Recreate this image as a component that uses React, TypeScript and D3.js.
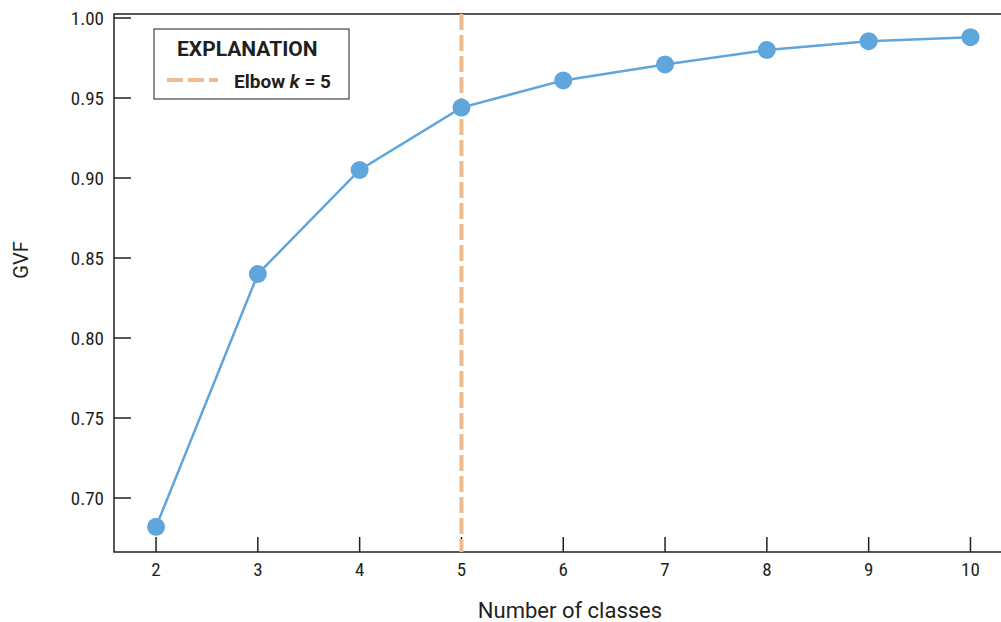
import React, { useEffect, useRef } from 'react';
import * as d3 from 'd3';

// Data
const classes = [2, 3, 4, 5, 6, 7, 8, 9, 10];
const gvf = [0.682, 0.84, 0.905, 0.944, 0.961, 0.971, 0.98, 0.9855, 0.988];
const yTicks = [0.7, 0.75, 0.8, 0.85, 0.9, 0.95, 1.0];
const elbowK = 5;

const NARROW = "'Liberation Sans Narrow', 'Roboto Condensed', Roboto, sans-serif";
const FONT = "Roboto, 'Liberation Sans', sans-serif";

const App = () => {
  const svgRef = useRef<SVGSVGElement>(null);

  useEffect(() => {
    const left = 114;
    const right = 1001;
    const top = 14;
    const bottom = 552;

    const svg = d3.select(svgRef.current);
    svg.selectAll('*').remove();

    const x = d3.scaleLinear().domain([1.587, 10.3]).range([left, right]);
    const y = d3.scaleLinear().domain([0.66625, 1.0025]).range([bottom, top]);

    // frame: left, top and bottom lines
    const axisColor = '#231f20';
    svg.append('path')
      .attr('d', `M${right},${top}H${left}V${bottom}H${right}`)
      .attr('fill', 'none')
      .attr('stroke', axisColor)
      .attr('stroke-width', 1.5);

    // y ticks (inward)
    const yg = svg.append('g');
    yTicks.forEach(t => {
      yg.append('line')
        .attr('x1', left).attr('x2', left + 17)
        .attr('y1', y(t)).attr('y2', y(t))
        .attr('stroke', axisColor).attr('stroke-width', 1.5);
      yg.append('text')
        .attr('x', left - 10)
        .attr('y', y(t))
        .attr('dy', '0.35em')
        .attr('text-anchor', 'end')
        .attr('font-family', NARROW)
        .attr('font-size', 19)
        .attr('fill', axisColor)
        .text(d3.format('.2f')(t));
    });

    // x ticks (inward)
    const xg = svg.append('g');
    classes.forEach(c => {
      xg.append('line')
        .attr('x1', x(c)).attr('x2', x(c))
        .attr('y1', bottom).attr('y2', bottom - 15)
        .attr('stroke', axisColor).attr('stroke-width', 1.5);
      xg.append('text')
        .attr('x', x(c))
        .attr('y', bottom + 24)
        .attr('text-anchor', 'middle')
        .attr('font-family', NARROW)
        .attr('font-size', 19)
        .attr('fill', axisColor)
        .text(c);
    });

    // axis labels
    svg.append('text')
      .attr('x', 570)
      .attr('y', 618)
      .attr('text-anchor', 'middle')
      .attr('font-family', FONT)
      .attr('font-size', 22)
      .attr('fill', axisColor)
      .text('Number of classes');

    svg.append('text')
      .attr('transform', 'translate(28,260) rotate(-90)')
      .attr('text-anchor', 'middle')
      .attr('font-family', FONT)
      .attr('font-size', 20)
      .attr('fill', axisColor)
      .text('GVF');

    // elbow line
    const elbowColor = '#efba8d';
    svg.append('line')
      .attr('x1', x(elbowK)).attr('x2', x(elbowK))
      .attr('y1', top).attr('y2', bottom)
      .attr('stroke', elbowColor)
      .attr('stroke-width', 4)
      .attr('stroke-dasharray', '16,5');

    // series
    const pts = classes.map((c, i) => [x(c), y(gvf[i])] as [number, number]);
    const blue = '#5fa6dc';
    svg.append('path')
      .attr('d', d3.line()(pts))
      .attr('fill', 'none')
      .attr('stroke', blue)
      .attr('stroke-width', 2.5);

    svg.selectAll('circle.pt')
      .data(pts)
      .enter().append('circle')
      .attr('class', 'pt')
      .attr('cx', d => d[0])
      .attr('cy', d => d[1])
      .attr('r', 9)
      .attr('fill', blue);

    // legend
    const lg = svg.append('g');
    lg.append('rect')
      .attr('x', 154).attr('y', 29)
      .attr('width', 195).attr('height', 70)
      .attr('fill', 'white')
      .attr('stroke', axisColor)
      .attr('stroke-width', 1);
    lg.append('text')
      .attr('x', 177).attr('y', 56)
      .attr('font-family', FONT)
      .attr('font-weight', 'bold')
      .attr('font-size', 21)
      .attr('fill', axisColor)
      .text('EXPLANATION');
    lg.append('line')
      .attr('x1', 167).attr('x2', 218)
      .attr('y1', 80).attr('y2', 80)
      .attr('stroke', elbowColor)
      .attr('stroke-width', 4)
      .attr('stroke-dasharray', '16,5');
    const lt = lg.append('text')
      .attr('x', 234).attr('y', 88)
      .attr('font-family', FONT)
      .attr('font-weight', 'bold')
      .attr('font-size', 19)
      .attr('fill', axisColor);
    lt.append('tspan').text('Elbow ');
    lt.append('tspan').attr('font-style', 'italic').text('k');
    lt.append('tspan').text(` = ${elbowK}`);
  }, []);

  return (
    <svg
      ref={svgRef}
      width={1001}
      height={622}
      style={{ position: 'absolute', left: 0, top: 0, background: 'white' }}
    />
  );
};

export default App;
